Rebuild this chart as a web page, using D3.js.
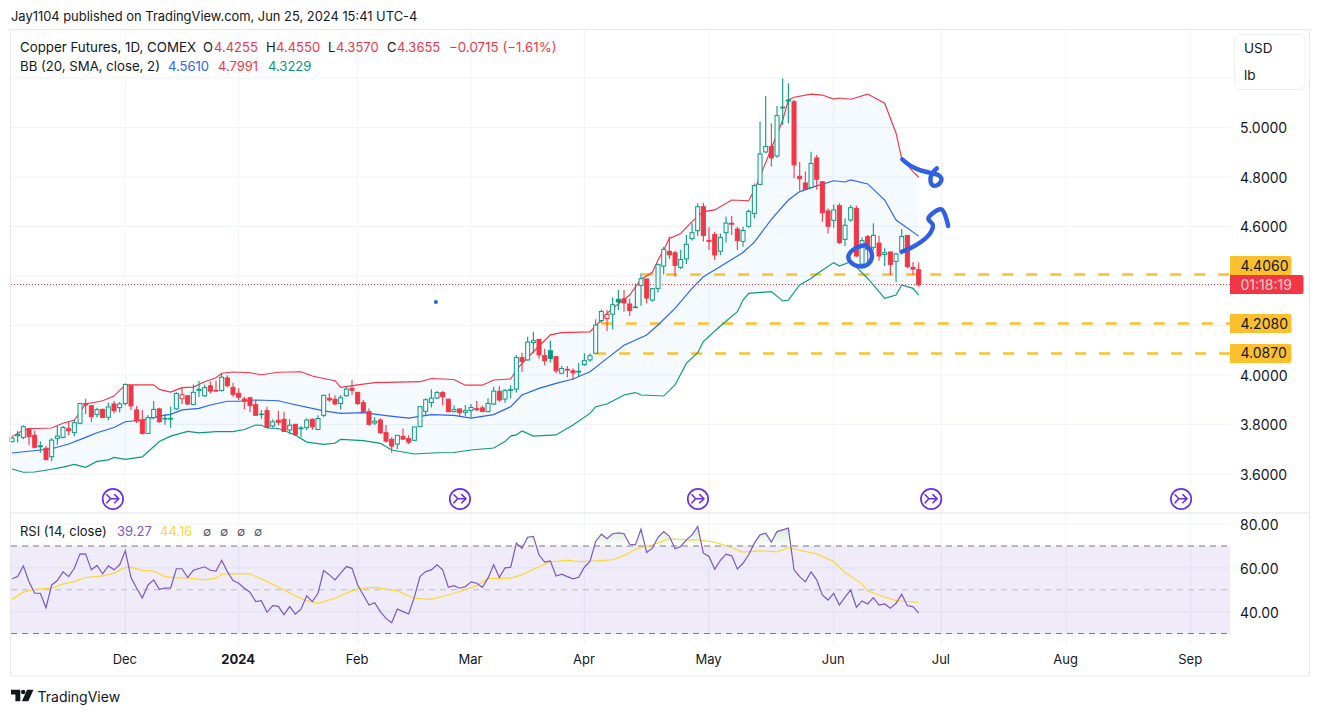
<!DOCTYPE html>
<html><head><meta charset="utf-8">
<script src="https://cdn.jsdelivr.net/npm/d3@7/dist/d3.min.js"></script>
<style>
html,body{margin:0;padding:0;background:#fff;overflow:hidden}
svg{display:block}
text{font-family:Inter,"Noto Sans",sans-serif;fill:#131722}
</style></head><body>
<script>
// ---- Candle data (one entry per trading day, index 0..160) ----
const opens=[3.731,3.755,3.748,3.783,3.756,3.710,3.704,3.670,3.744,3.748,
3.783,3.767,3.805,3.885,3.876,3.840,3.861,3.829,3.883,3.868,
3.885,3.957,3.859,3.818,3.764,3.828,3.863,3.822,3.822,3.863,
3.904,3.916,3.881,3.938,3.916,3.956,3.938,3.937,3.988,3.950,
3.926,3.903,3.908,3.880,3.840,3.856,3.794,3.817,3.821,3.778,
3.801,3.783,3.787,3.821,3.780,3.837,3.906,3.902,3.885,3.916,
3.946,3.930,3.888,3.852,3.806,3.818,3.767,3.740,3.721,3.752,
3.743,3.736,3.791,3.853,3.889,3.907,3.929,3.902,3.852,3.863,
3.849,3.857,3.864,3.867,3.852,3.883,3.934,3.903,3.938,3.943,
4.070,4.061,4.131,4.144,4.078,4.098,4.074,4.007,4.023,4.017,
4.012,4.042,4.061,4.088,4.220,4.228,4.246,4.306,4.308,4.287,
4.272,4.362,4.388,4.303,4.350,4.440,4.500,4.494,4.435,4.469,
4.551,4.583,4.680,4.544,4.568,4.500,4.575,4.613,4.590,4.540,
4.601,4.653,4.770,4.901,4.923,4.885,5.079,5.107,5.104,4.803,
4.776,4.758,4.877,4.781,4.663,4.625,4.684,4.548,4.626,4.673,
4.448,4.559,4.516,4.533,4.487,4.497,4.459,4.498,4.564,4.435,4.4255];
const highs=[3.751,3.775,3.797,3.783,3.775,3.732,3.713,3.744,3.794,3.794,
3.813,3.818,3.885,3.904,3.879,3.868,3.865,3.889,3.895,3.891,
3.966,3.957,3.875,3.859,3.838,3.895,3.868,3.842,3.872,3.930,
3.949,3.919,3.962,3.976,3.962,3.973,3.977,4.007,3.999,3.969,
3.946,3.912,3.912,3.899,3.859,3.872,3.821,3.856,3.852,3.821,
3.801,3.794,3.824,3.824,3.837,3.920,3.926,3.918,3.919,3.953,
3.980,3.930,3.899,3.865,3.829,3.825,3.798,3.748,3.756,3.784,
3.757,3.790,3.875,3.906,3.942,3.935,3.935,3.904,3.877,3.864,
3.879,3.883,3.895,3.877,3.906,3.953,3.955,3.942,3.959,4.081,
4.090,4.155,4.175,4.144,4.106,4.139,4.077,4.036,4.036,4.027,
4.050,4.088,4.088,4.225,4.265,4.263,4.314,4.343,4.343,4.308,
4.370,4.411,4.388,4.352,4.451,4.518,4.559,4.502,4.505,4.566,
4.613,4.694,4.696,4.597,4.579,4.572,4.640,4.642,4.599,4.599,
4.669,4.774,5.024,5.127,5.017,5.087,5.199,5.179,5.111,4.862,
4.822,4.902,4.889,4.781,4.673,4.689,4.694,4.633,4.687,4.684,
4.556,4.566,4.613,4.563,4.512,4.498,4.494,4.590,4.566,4.457,4.455];
const lows=[3.727,3.727,3.740,3.717,3.704,3.686,3.654,3.652,3.718,3.743,
3.757,3.753,3.801,3.842,3.809,3.828,3.826,3.817,3.845,3.848,
3.877,3.859,3.805,3.760,3.764,3.821,3.807,3.799,3.787,3.859,
3.883,3.879,3.877,3.912,3.912,3.926,3.933,3.933,3.950,3.912,
3.899,3.863,3.850,3.834,3.822,3.787,3.788,3.797,3.770,3.760,
3.755,3.748,3.778,3.778,3.778,3.829,3.892,3.879,3.861,3.912,
3.919,3.879,3.849,3.795,3.798,3.762,3.727,3.686,3.701,3.737,
3.721,3.733,3.790,3.836,3.869,3.902,3.877,3.850,3.849,3.832,
3.834,3.829,3.855,3.849,3.849,3.879,3.892,3.888,3.906,3.929,
4.013,4.058,4.088,4.067,4.039,4.051,4.007,4.003,3.991,3.980,
3.996,4.036,4.054,4.085,4.209,4.178,4.185,4.263,4.256,4.238,
4.272,4.280,4.290,4.296,4.333,4.407,4.469,4.397,4.427,4.448,
4.543,4.563,4.539,4.505,4.465,4.485,4.535,4.566,4.505,4.518,
4.595,4.633,4.768,4.896,4.842,4.878,5.010,5.017,4.795,4.745,
4.750,4.754,4.750,4.619,4.572,4.595,4.528,4.521,4.619,4.478,
4.438,4.444,4.505,4.462,4.440,4.404,4.376,4.488,4.431,4.405,4.357];
const closes=[3.745,3.760,3.791,3.751,3.708,3.714,3.659,3.737,3.753,3.788,
3.775,3.807,3.885,3.879,3.832,3.860,3.828,3.871,3.856,3.883,
3.962,3.875,3.814,3.764,3.828,3.861,3.811,3.825,3.825,3.925,
3.920,3.883,3.930,3.942,3.949,3.935,3.935,3.991,3.957,3.922,
3.910,3.894,3.876,3.837,3.842,3.788,3.811,3.809,3.772,3.797,
3.758,3.786,3.818,3.791,3.824,3.918,3.899,3.883,3.908,3.943,
3.938,3.885,3.852,3.801,3.813,3.767,3.733,3.713,3.756,3.741,
3.729,3.790,3.872,3.900,3.906,3.929,3.912,3.852,3.860,3.848,
3.856,3.869,3.860,3.853,3.885,3.935,3.899,3.938,3.941,4.071,
4.054,4.133,4.139,4.081,4.058,4.067,4.017,4.026,4.020,4.009,
4.015,4.058,4.078,4.202,4.257,4.245,4.284,4.295,4.291,4.261,
4.275,4.389,4.311,4.349,4.446,4.508,4.486,4.443,4.467,4.528,
4.575,4.680,4.564,4.540,4.485,4.556,4.614,4.609,4.543,4.584,
4.661,4.765,4.893,4.924,4.877,5.048,5.082,5.111,4.849,4.793,
4.750,4.855,4.791,4.656,4.601,4.667,4.535,4.605,4.676,4.481,
4.543,4.508,4.564,4.481,4.494,4.447,4.489,4.560,4.438,4.428,4.3655];
const redHollow=[30,105];
const greenFilled=[95,107];

// ---- Bollinger bands, read as [bar, price] ----
const bbUpper=[[0,3.751],[2,3.778],[3,3.783],[7,3.786],[9,3.805],[11,3.818],[13,3.883],[16,3.896],[18,3.915],[20,3.960],[25,3.960],[26,3.942],[28,3.931],[30,3.949],[32,3.951],[34,3.973],[36,3.989],[37,4.007],[39,4.012],[42,4.009],[44,4.001],[47,4.011],[51,4.013],[53,3.996],[55,3.986],[57,3.977],[58,3.950],[61,3.960],[64,3.969],[72,3.973],[74,3.986],[78,3.982],[80,3.959],[83,3.959],[85,3.980],[88,3.984],[89,4.020],[90,4.047],[92,4.094],[95,4.162],[97,4.171],[102,4.174],[103,4.198],[105,4.249],[106,4.269],[109,4.323],[111,4.387],[113,4.415],[114,4.465],[115,4.505],[116,4.552],[118,4.572],[120,4.620],[122,4.660],[124,4.667],[127,4.707],[130,4.704],[131,4.748],[132,4.801],[134,4.916],[136,5.030],[137,5.111],[138,5.122],[141,5.135],[143,5.131],[145,5.115],[146,5.119],[148,5.114],[151,5.135],[154,5.098],[156,4.977],[157,4.875],[159,4.822],[160,4.7991]];
const bbBasis=[[0,3.685],[5,3.697],[7,3.702],[10,3.721],[13,3.748],[15,3.767],[18,3.788],[20,3.811],[23,3.818],[26,3.834],[28,3.841],[30,3.859],[33,3.865],[35,3.879],[38,3.894],[40,3.894],[43,3.899],[47,3.896],[49,3.885],[55,3.855],[58,3.845],[62,3.848],[66,3.836],[70,3.826],[74,3.840],[78,3.837],[81,3.826],[85,3.840],[88,3.872],[90,3.919],[93,3.946],[96,3.966],[99,3.984],[102,4.013],[105,4.067],[108,4.120],[112,4.162],[114,4.202],[117,4.269],[120,4.350],[122,4.397],[125,4.438],[129,4.495],[131,4.537],[134,4.629],[137,4.707],[139,4.741],[142,4.764],[145,4.785],[147,4.780],[148,4.788],[151,4.772],[154,4.707],[156,4.626],[160,4.5610]];
const bbLower=[[0,3.620],[2,3.607],[4,3.608],[7,3.619],[9,3.628],[11,3.639],[13,3.627],[15,3.651],[17,3.657],[18,3.667],[20,3.659],[23,3.669],[24,3.690],[26,3.731],[28,3.753],[31,3.772],[33,3.766],[36,3.771],[39,3.771],[41,3.780],[43,3.798],[44,3.797],[45,3.786],[47,3.784],[50,3.758],[52,3.729],[55,3.720],[57,3.724],[58,3.740],[62,3.735],[65,3.724],[67,3.697],[71,3.681],[75,3.686],[78,3.687],[81,3.697],[85,3.705],[87,3.731],[88,3.753],[89,3.758],[90,3.774],[92,3.753],[96,3.758],[99,3.798],[102,3.845],[103,3.872],[105,3.883],[108,3.919],[110,3.929],[111,3.919],[115,3.915],[117,3.960],[119,4.047],[121,4.090],[122,4.135],[125,4.198],[128,4.256],[129,4.303],[130,4.330],[134,4.337],[136,4.299],[137,4.303],[139,4.364],[141,4.390],[142,4.408],[145,4.454],[146,4.440],[148,4.458],[151,4.390],[154,4.310],[156,4.323],[157,4.364],[159,4.350],[160,4.3229]];

// ---- RSI pane ----
const rsi=[55.0,56.0,60.9,53.7,48.4,48.4,41.8,52.2,54.2,58.2,56.0,59.8,66.4,66.3,59.1,61.1,57.3,60.9,59.1,61.4,
67.8,55.6,50.7,46.3,52.2,54.5,50.2,50.7,50.8,59.6,59.6,55.6,58.9,59.7,60.5,58.9,58.5,63.5,58.3,54.2,
53.0,50.7,48.9,44.6,45.0,39.7,42.7,42.4,38.6,42.3,38.9,41.1,47.2,44.6,48.4,58.8,56.8,54.5,57.6,60.6,
59.8,52.2,47.6,43.0,44.1,40.0,36.9,34.9,41.2,40.0,38.9,46.6,56.0,58.3,59.1,61.4,59.1,51.1,51.9,50.7,
51.4,53.6,53.0,51.1,55.3,61.4,55.6,60.0,60.3,71.3,69.0,74.0,74.4,66.0,62.6,63.2,56.3,57.1,56.0,55.0,
55.7,60.3,62.9,72.1,75.4,73.3,75.6,76.0,75.6,70.8,70.5,77.7,67.0,69.0,74.0,76.6,74.4,68.7,69.8,72.8,
75.1,78.9,66.7,65.2,59.4,63.4,66.3,65.5,59.5,62.1,66.0,71.3,75.1,75.9,71.8,76.6,77.4,78.2,59.1,56.0,
53.6,58.2,54.5,47.6,45.3,48.4,43.0,46.6,49.9,42.0,44.9,43.5,46.4,43.0,43.5,41.5,43.8,47.9,42.7,42.3,39.27];
const rsiMA=[[0,45.6],[2,48.9],[4,50.2],[7,50.7],[9,52.7],[11,53.7],[13,55.6],[16,56.3],[18,57.6],[20,60.2],[21,60.2],[23,58.9],[25,58.5],[27,56.0],[29,55.4],[31,55.4],[34,54.5],[36,55.3],[37,57.1],[39,57.4],[42,57.3],[45,53.7],[48,49.9],[50,47.2],[52,45.0],[54,43.8],[57,46.1],[60,49.6],[62,50.7],[64,51.1],[68,49.5],[71,46.1],[74,45.6],[77,47.6],[79,49.2],[82,51.9],[84,55.1],[88,55.3],[90,56.8],[93,60.6],[95,62.7],[98,63.5],[100,62.9],[103,63.2],[106,63.7],[108,65.6],[110,68.5],[113,70.5],[116,73.3],[119,72.8],[121,72.8],[124,71.8],[126,70.1],[129,67.2],[132,67.8],[135,67.3],[137,69.2],[140,67.5],[142,66.4],[145,62.9],[147,57.9],[150,52.7],[151,49.5],[154,46.6],[156,45.0],[160,44.16]];

// ---- Axes ----
const timeTickBars=[20,40,61,81,101,123,145,164,186,208];
const timeTickLabels=["Dec","2024","Feb","Mar","Apr","May","Jun","Jul","Aug","Sep"];
const priceTicks=[5,4.8,4.6,4,3.8,3.6];
const priceGrid=[5.2,5,4.8,4.6,4.4,4.2,4,3.8,3.6];
const rsiTicks=[80,60,40];
const rsiLevels=[70,50,30];

// ---- Horizontal levels and hand drawings ----
const levelPrices=[4.406,4.208,4.087];
const levelStartBars=[111.2,104.1,102.9];
const lastPrice=4.3655;
const eventBars=[17.8,79.05,121.05,162.2,206.3];
const strokeTopArrow=[[157.1,4.871],[158.5,4.846],[160.2,4.828],[162.0,4.817],[163.5,4.808],[164.0,4.795],[163.6,4.772],[162.6,4.765],[162.1,4.781],[162.3,4.812],[163.2,4.835]];
const strokeLowArrow=[[157.0,4.498],[158.5,4.512],[160.5,4.539],[162.0,4.572],[162.5,4.606],[161.7,4.633],[164.0,4.669],[165.2,4.602]];
const strokeCircle=[[150.5,4.525],[148.8,4.512],[147.6,4.481],[147.9,4.458],[149.3,4.440],[150.8,4.444],[151.7,4.471],[151.5,4.505],[150.5,4.525]];
const dotMark=[74.8,4.295];

// ---- Layout ----
const W=1320,H=715;
const L=11,PR=1230,R=1309.5,TOP=29.5,SEP=513,RB=645,BOT=676;
const C={red:"#f23645",green:"#089981",blue:"#2962ff",purple:"#7e57c2",yellow:"#fdd835",grid:"#f0f3fa",frame:"#e6e8ee",orange:"#fbc02d",ink:"#131722",mark:"#2f5fe3",event:"#6a2cf0"};

const x=d3.scaleLinear().domain([0,160]).range([12,918.7]);
const y=d3.scaleLinear().domain([5,3.6]).range([127.5,474]);
const yR=d3.scaleLinear().domain([70,30]).range([546,633.5]);

const svg=d3.select("body").append("svg").attr("width",W).attr("height",H);

// header
svg.append("text").attr("x",11).attr("y",20.5).attr("font-size",12.9).text("Jay1104 published on TradingView.com, Jun 25, 2024 15:41 UTC-4");

// grid
const g=svg.append("g");
g.append("g").selectAll("line").data(timeTickBars).join("line")
 .attr("x1",d=>x(d)).attr("x2",d=>x(d)).attr("y1",TOP).attr("y2",RB).attr("stroke",C.grid);
g.append("g").selectAll("line").data(priceGrid).join("line")
 .attr("x1",L).attr("x2",PR).attr("y1",d=>y(d)).attr("y2",d=>y(d)).attr("stroke",C.grid);
g.append("g").selectAll("line").data(rsiTicks).join("line")
 .attr("x1",L).attr("x2",PR).attr("y1",d=>yR(d)).attr("y2",d=>yR(d)).attr("stroke",C.grid);

// BB fill
const lineP=d3.line().x(d=>x(d[0])).y(d=>y(d[1]));
svg.append("path").attr("d",lineP(bbUpper.concat(bbLower.slice().reverse()))+"Z").attr("fill","rgba(33,150,243,0.05)");

// RSI background and levels
svg.append("rect").attr("x",L).attr("width",PR-L).attr("y",yR(70)).attr("height",yR(30)-yR(70)).attr("fill","rgba(126,87,194,0.12)");
svg.append("g").selectAll("line").data(rsiLevels).join("line")
 .attr("x1",L).attr("x2",PR).attr("y1",d=>yR(d)).attr("y2",d=>yR(d))
 .attr("stroke",d=>d===50?"#b9bbc4":"#787b86").attr("stroke-width",1).attr("stroke-dasharray","6 5");

// RSI overbought gradient
const defs=svg.append("defs");
const grad=defs.append("linearGradient").attr("id","ob").attr("gradientUnits","userSpaceOnUse").attr("x1",0).attr("x2",0).attr("y1",yR(80)).attr("y2",yR(70));
grad.append("stop").attr("offset",0).attr("stop-color","#4caf50").attr("stop-opacity",.28);
grad.append("stop").attr("offset",1).attr("stop-color","#4caf50").attr("stop-opacity",.02);
defs.append("clipPath").attr("id","obClip").append("rect").attr("x",L).attr("y",TOP).attr("width",PR-L).attr("height",yR(70)-TOP);
svg.append("path").datum(rsi).attr("clip-path","url(#obClip)").attr("fill","url(#ob)")
 .attr("d",d3.area().x((d,i)=>x(i)).y0(yR(70)).y1(d=>yR(d)));

// level dashes
svg.append("g").selectAll("line").data(levelPrices).join("line")
 .attr("x1",(d,i)=>x(levelStartBars[i])).attr("x2",PR).attr("y1",d=>y(d)).attr("y2",d=>y(d))
 .attr("stroke",C.orange).attr("stroke-width",2.4).attr("stroke-dasharray","11 13");

// last price line
svg.append("line").attr("x1",L).attr("x2",PR).attr("y1",y(lastPrice)).attr("y2",y(lastPrice))
 .attr("stroke",C.red).attr("stroke-dasharray","1 2").attr("stroke-width",1);

// bands
[[bbUpper,C.red],[bbBasis,C.blue],[bbLower,C.green]].forEach(([d,c])=>{
  svg.append("path").attr("d",lineP(d)).attr("fill","none").attr("stroke",c).attr("stroke-width",1.15);
});

// candles
const idx=d3.range(opens.length);
const isGreen=i=>{
  if(redHollow.includes(i))return false;
  if(greenFilled.includes(i))return true;
  return closes[i]>=opens[i];
};
const col=i=>isGreen(i)?C.green:C.red;
const cg=svg.append("g").selectAll("g").data(idx).join("g");
const bw=4;
cg.append("line").attr("x1",i=>x(i)).attr("x2",i=>x(i)).attr("y1",i=>y(highs[i])).attr("y2",i=>y(Math.max(opens[i],closes[i])))
 .attr("stroke",col).attr("stroke-width",1.1);
cg.append("line").attr("x1",i=>x(i)).attr("x2",i=>x(i)).attr("y1",i=>y(Math.min(opens[i],closes[i]))).attr("y2",i=>y(lows[i]))
 .attr("stroke",col).attr("stroke-width",1.1);
cg.append("rect").attr("x",i=>x(i)-bw/2).attr("width",bw)
 .attr("y",i=>y(Math.max(opens[i],closes[i])))
 .attr("height",i=>Math.abs(y(opens[i])-y(closes[i])))
 .attr("fill",i=>closes[i]>opens[i]?"#f7fbfe":col(i))
 .attr("stroke",col).attr("stroke-width",1);

// hand drawings
const lineRaw=d3.line().x(d=>x(d[0])).y(d=>y(d[1])).curve(d3.curveCatmullRom);
[strokeTopArrow,strokeLowArrow,strokeCircle].forEach(d=>{
  svg.append("path").attr("d",lineRaw(d)).attr("fill","none").attr("stroke",C.mark).attr("stroke-width",4.4)
   .attr("stroke-linecap","round").attr("stroke-linejoin","round");
});
svg.append("circle").attr("cx",x(dotMark[0])).attr("cy",y(dotMark[1])).attr("r",2).attr("fill",C.mark);

// event badges
const ev=svg.append("g").selectAll("g").data(eventBars).join("g").attr("transform",d=>`translate(${x(d)},499)`);
ev.append("circle").attr("r",10.2).attr("fill","#fff").attr("stroke",C.event).attr("stroke-width",1.7);
ev.append("path").attr("d","M-6,-4.2 L-2.2,-0.3 L5.8,-0.3 M-6,3.8 L-2.4,-0.3 M1.8,-4.4 L6,-0.3 L1.8,3.8")
 .attr("fill","none").attr("stroke",C.event).attr("stroke-width",1.6).attr("stroke-linecap","round").attr("stroke-linejoin","round");

// RSI lines
svg.append("path").attr("d",d3.line().x(d=>x(d[0])).y(d=>yR(d[1]))(rsiMA)).attr("fill","none").attr("stroke",C.yellow).attr("stroke-width",1.2);
svg.append("path").datum(rsi).attr("d",d3.line().x((d,i)=>x(i)).y(d=>yR(d))).attr("fill","none").attr("stroke",C.purple).attr("stroke-width",1.2);

// frame
svg.append("rect").attr("x",L-.5).attr("y",TOP).attr("width",R-L+.5).attr("height",BOT-TOP).attr("fill","none").attr("stroke",C.frame);
svg.append("line").attr("x1",L).attr("x2",R).attr("y1",SEP).attr("y2",SEP).attr("stroke","#e0e3eb");

// axes
function styleAxis(a,size,weightFn){
  a.select(".domain").remove();a.selectAll("line").remove();
  a.selectAll("text").attr("font-size",size).attr("font-family",'Inter,"Noto Sans",sans-serif').style("fill",C.ink);
  if(weightFn)a.selectAll("text").attr("font-weight",weightFn);
}
const ax=svg.append("g").attr("transform",`translate(-1,656)`)
 .call(d3.axisBottom(x).tickValues(timeTickBars).tickSize(0).tickFormat(d=>timeTickLabels[timeTickBars.indexOf(d)]));
styleAxis(ax,13,d=>timeTickLabels[timeTickBars.indexOf(d)]==="2024"?700:400);
ax.selectAll("text").attr("dy","0.65em").attr("y",0);
const ay=svg.append("g").attr("transform",`translate(1240,0.8)`)
 .call(d3.axisRight(y).tickValues(priceTicks).tickSize(0).tickPadding(0).tickFormat(d3.format(".4f")));
styleAxis(ay,14);
const ayR=svg.append("g").attr("transform",`translate(1240,1.2)`)
 .call(d3.axisRight(yR).tickValues(rsiTicks).tickSize(0).tickPadding(0).tickFormat(d3.format(".2f")));
styleAxis(ayR,14);

// orange labels (the first one sits above its level to clear the countdown tag)
const labelShift=[-9,0,0];
const lab=svg.append("g").selectAll("g").data(levelPrices).join("g").attr("transform",(d,i)=>`translate(1230,${y(d)+labelShift[i]})`);
lab.append("path").attr("d","M0,-9.5 H59.5 a2,2 0 0 1 2,2 V7.5 a2,2 0 0 1 -2,2 H0 Z").attr("fill",C.orange);
lab.append("text").attr("x",10.5).attr("y",5).attr("font-size",14).text(d=>d.toFixed(4));

// countdown label
const cd=svg.append("g").attr("transform",`translate(1230,${y(lastPrice)})`);
cd.append("path").attr("d","M0,-9.5 H71.5 a2,2 0 0 1 2,2 V7.5 a2,2 0 0 1 -2,2 H0 Z").attr("fill",C.red);
cd.append("text").attr("x",10.5).attr("y",5).attr("font-size",14).style("fill","#fbd0d4").text("01:18:19");

// unit box
svg.append("rect").attr("x",1234.5).attr("y",34.5).attr("width",70.5).attr("height",55).attr("rx",6).attr("fill","#fff").attr("stroke","#eceef2");
svg.append("text").attr("x",1244).attr("y",53).attr("font-size",13.5).text("USD");
svg.append("text").attr("x",1244).attr("y",80).attr("font-size",13.5).text("lb");

// legends
function legend(px,py,color,str,size){
  svg.append("text").attr("x",px).attr("y",py).attr("font-size",size||13).style("fill",color).text(str);
}
legend(20,52,C.ink,"Copper Futures, 1D, COMEX",13.3);
legend(203,52,C.ink,"O");legend(214,52,C.red,"4.4255");
legend(266,52,C.ink,"H");legend(276,52,C.red,"4.4550");
legend(328,52,C.ink,"L");legend(336,52,C.red,"4.3570");
legend(387,52,C.ink,"C");legend(397,52,C.red,"4.3655");
legend(449,52,C.red,"\u22120.0715 (\u22121.61%)",13.35);
legend(20,71,C.ink,"BB (20, SMA, close, 2)",13.2);
legend(168,71,C.blue,"4.5610");legend(218,71,C.red,"4.7991");legend(268,71,C.green,"4.3229");
legend(20,535.5,C.ink,"RSI (14, close)");
legend(117,535.5,C.purple,"39.27");legend(160,535.5,C.yellow,"44.16");
[203,220,237,254].forEach(px=>legend(px,535.5,"#50535e","\u2205",12));

// brand
svg.append("path").attr("fill",C.ink).attr("d","M11,689.8 H20.3 V701.2 H15.4 V694.6 H11 Z M27,689.8 H33.5 L28.3,701.2 H21.9 Z");
svg.append("circle").attr("cx",23.2).attr("cy",692).attr("r",2.2).attr("fill",C.ink);
svg.append("text").attr("x",37.5).attr("y",701.5).attr("font-size",14).text("TradingView");
</script>
</body></html>
